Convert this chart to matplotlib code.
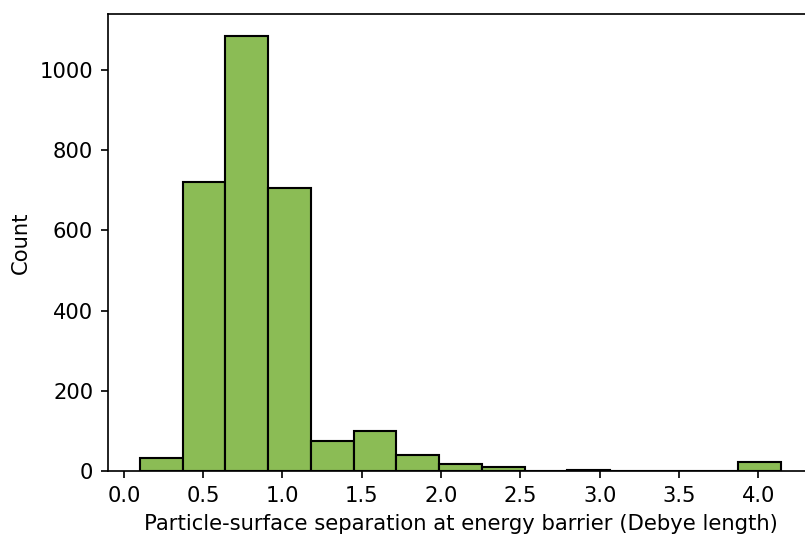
import numpy as np
import matplotlib
matplotlib.use("Agg")
import matplotlib.pyplot as plt

# Histogram of particle-surface separation at energy barrier
bin_edges = np.linspace(0.101, 4.143, 16)  # 15 bins (Debye length)
counts = [33, 720, 1085, 705, 74, 100, 40, 18, 10, 0, 3, 0, 0, 0, 22]

bar_color = "#8bbc55"

dpi = 152
fig = plt.figure(figsize=(805 / dpi, 540 / dpi), dpi=dpi)
# axes run a little past the right edge, like the cropped reference
ax = fig.add_axes([108 / 805, 69 / 540, (813 - 108) / 805, (471 - 14) / 540])

ax.bar(bin_edges[:-1], counts, width=np.diff(bin_edges), align="edge",
       color=bar_color, edgecolor="black", linewidth=1.0)

ax.set_xlim(-0.1, 4.345)
ax.set_ylim(0, 1.05 * max(counts))
ax.set_xticks(np.arange(0, 4.01, 0.5))
ax.set_xlabel("Particle-surface separation at energy barrier (Debye length)")
ax.set_ylabel("Count")

fig.savefig("out.png", dpi=dpi)
